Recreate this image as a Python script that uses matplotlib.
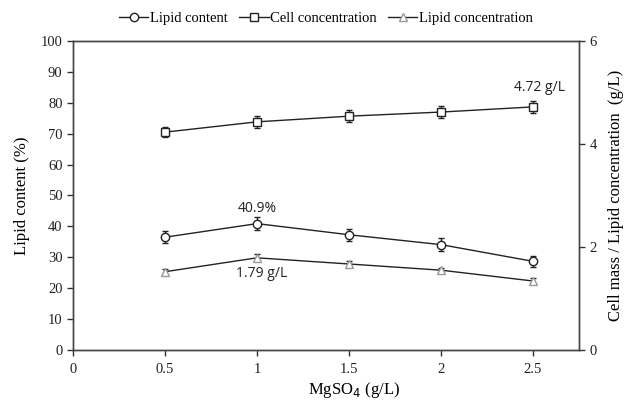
import matplotlib.pyplot as plt
from matplotlib.lines import Line2D

# MgSO4 dose (g/L)
mgso4 = [0.5, 1.0, 1.5, 2.0, 2.5]

# lipid content (%) on the left axis
lipid_content = [36.5, 40.9, 37.3, 34.1, 28.7]
lipid_content_err = [2.0, 2.0, 2.0, 2.0, 1.8]

# cell concentration and lipid concentration (g/L) on the right axis
cell_conc = [4.23, 4.43, 4.54, 4.62, 4.72]
cell_conc_err = [0.10, 0.11, 0.12, 0.11, 0.11]
lipid_conc = [1.52, 1.79, 1.67, 1.55, 1.34]
lipid_conc_err = [0.05, 0.07, 0.06, 0.05, 0.05]

plt.rcParams["font.family"] = "Liberation Serif"

fig = plt.figure(figsize=(6.27, 4.03), dpi=100)
ax = fig.add_axes([0.1164, 0.1315, 0.8070, 0.7668])
ax2 = ax.twinx()

dark = "#222222"
err_kw = dict(capsize=2.5, elinewidth=1.0, capthick=1.0, lw=1.0, mfc="white",
              color=dark, ecolor=dark)

ax.errorbar(mgso4, lipid_content, yerr=lipid_content_err, marker="o", ms=6,
            mec=dark, **err_kw)
ax2.errorbar(mgso4, cell_conc, yerr=cell_conc_err, marker="s", ms=5.5,
             mec=dark, **err_kw)
ax2.errorbar(mgso4, lipid_conc, yerr=lipid_conc_err, marker="^", ms=5.5,
             mec="#999999", **err_kw)

ax.set_xlim(0, 2.75)
ax.set_ylim(0, 100)
ax2.set_ylim(0, 6)
ax.set_xticks([0, 0.5, 1, 1.5, 2, 2.5])
ax.set_xticklabels(["0", "0.5", "1", "1.5", "2", "2.5"])
ax.set_yticks(range(0, 101, 10))
ax2.set_yticks([0, 2, 4, 6])

for a in (ax, ax2):
    a.tick_params(direction="out", length=4, width=1, labelsize=10.5,
                  color="#333333", labelcolor=dark)
    for s in a.spines.values():
        s.set_color("#444444")
        s.set_linewidth(1.0)
ax.tick_params(axis="x", pad=5)

ax.set_ylabel("Lipid content (%)", fontsize=12, labelpad=8)
ax2.set_ylabel("Cell mass / Lipid concentration  (g/L)", fontsize=12, labelpad=8)
ax.set_xlabel("MgSO$_4$ (g/L)", fontsize=12, labelpad=3)
ax.xaxis.label.set_x(0.555)

# value call-outs
note_kw = dict(fontsize=10, family="Open Sans", color=dark,
               ha="center", va="center")
ax.annotate(f"{lipid_content[1]}%", (mgso4[1], lipid_content[1]),
            xytext=(0, 11), textcoords="offset points", **note_kw)
ax2.annotate(f"{lipid_conc[1]} g/L", (mgso4[1], lipid_conc[1]),
             xytext=(3, -11), textcoords="offset points", **note_kw)
ax2.annotate(f"{cell_conc[4]} g/L", (mgso4[4], cell_conc[4]),
             xytext=(5, 14), textcoords="offset points", **note_kw)

handles = [
    Line2D([], [], color=dark, lw=1.0, marker="o", ms=6, mfc="white", mec=dark,
           label="Lipid content"),
    Line2D([], [], color=dark, lw=1.0, marker="s", ms=5.5, mfc="white", mec=dark,
           label="Cell concentration"),
    Line2D([], [], color=dark, lw=1.0, marker="^", ms=5.5, mfc="white",
           mec="#999999", label="Lipid concentration"),
]
fig.legend(handles=handles, loc="center", bbox_to_anchor=(0.52, 0.955),
           ncol=3, frameon=False, fontsize=10.5, handlelength=2.0,
           handletextpad=0.1, columnspacing=0.8)

fig.savefig("out.png", dpi=100)
